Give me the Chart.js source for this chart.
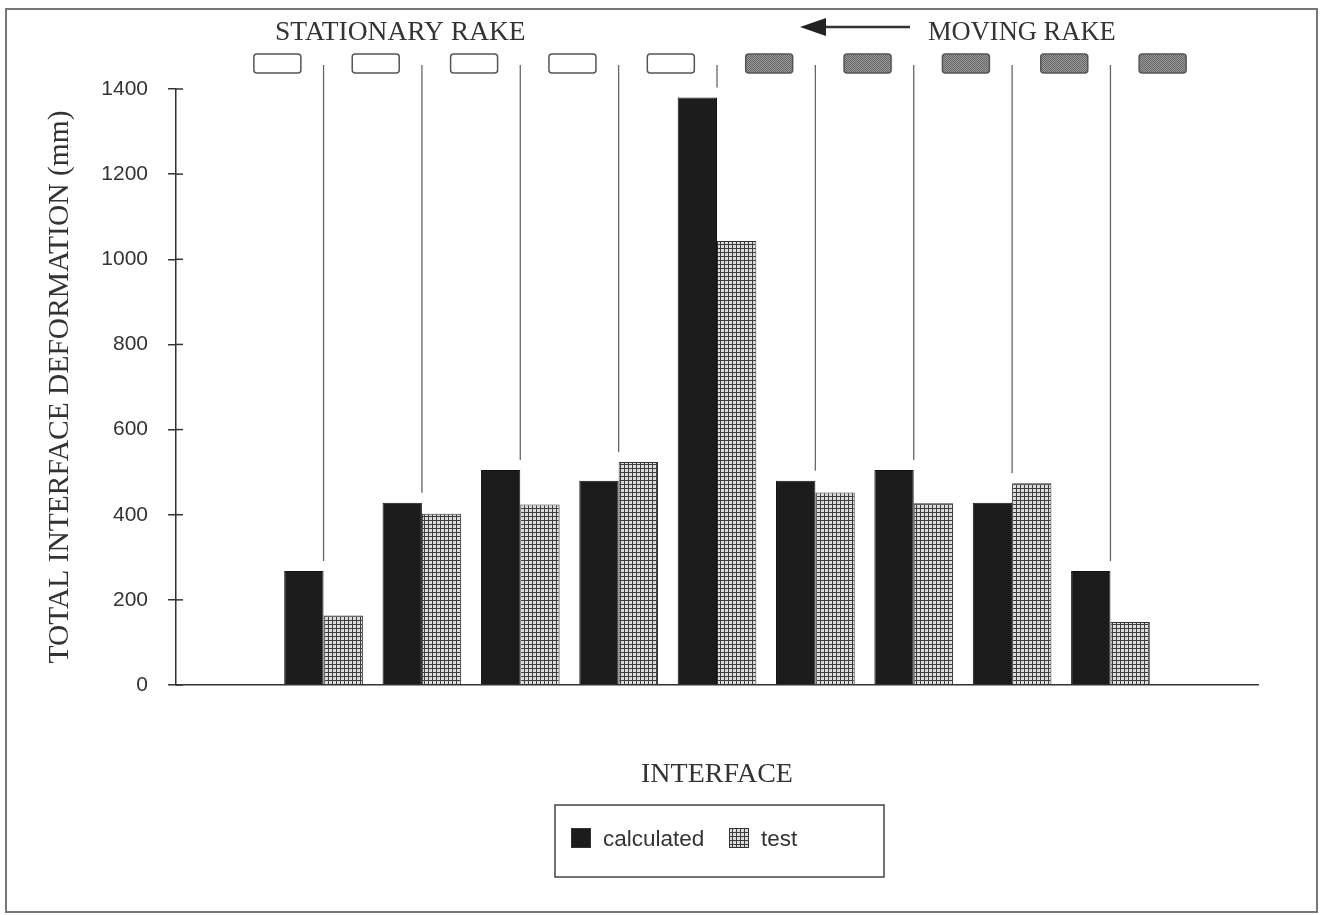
<!DOCTYPE html>
<html>
<head>
<meta charset="utf-8">
<script src="https://cdn.jsdelivr.net/npm/chart.js@4.4.0/dist/chart.umd.min.js"></script>
<style>
  html, body { margin: 0; padding: 0; background: #fff; }
  canvas { display: block; }
</style>
</head>
<body>
<canvas id="deformChart" width="1320" height="915"></canvas>
<script>
// interface slots (empty first / last slot = rake ends)
const interfaces = ["", "1", "2", "3", "4", "5", "6", "7", "8", "9", ""];
const calculated = [null, 268, 428, 505, 480, 1380, 480, 505, 428, 268, null];
const test = [null, 163, 402, 424, 524, 1043, 452, 427, 474, 148, null];
const yMin = 0;
const yMax = 1400;
const yStep = 200;
const rakes = ["stationary", "stationary", "stationary", "stationary", "stationary",
               "moving", "moving", "moving", "moving", "moving"];

const canvas = document.getElementById("deformChart");
const ctx = canvas.getContext("2d");

// fine grid hatch used for the "test" bars
function gridPattern() {
  const c = document.createElement("canvas");
  c.width = 4; c.height = 4;
  const g = c.getContext("2d");
  g.fillStyle = "#dcdcdc";
  g.fillRect(0, 0, 4, 4);
  g.fillStyle = "#3c3c3c";
  g.fillRect(0, 0, 4, 1);
  g.fillRect(0, 0, 1, 4);
  return ctx.createPattern(c, "repeat");
}

// stipple for moving rake elements
function stipplePattern() {
  const c = document.createElement("canvas");
  c.width = 2; c.height = 2;
  const g = c.getContext("2d");
  g.fillStyle = "#9a9a9a";
  g.fillRect(0, 0, 2, 2);
  g.fillStyle = "#666";
  g.fillRect(0, 0, 1, 1);
  g.fillRect(1, 1, 1, 1);
  return ctx.createPattern(c, "repeat");
}

const testFill = gridPattern();
const movingFill = stipplePattern();
const SERIF = "'Liberation Serif', 'DejaVu Serif', serif";
const SANS = "'Liberation Sans', Arial, sans-serif";

function roundRect(g, x, y, w, h, r) {
  g.beginPath();
  g.moveTo(x + r, y);
  g.lineTo(x + w - r, y);
  g.quadraticCurveTo(x + w, y, x + w, y + r);
  g.lineTo(x + w, y + h - r);
  g.quadraticCurveTo(x + w, y + h, x + w - r, y + h);
  g.lineTo(x + r, y + h);
  g.quadraticCurveTo(x, y + h, x, y + h - r);
  g.lineTo(x, y + r);
  g.quadraticCurveTo(x, y, x + r, y);
  g.closePath();
}

const decor = {
  id: "rakeDecor",
  afterDraw(chart) {
    const g = chart.ctx;
    const xs = chart.scales.x;
    const ys = chart.scales.y;
    g.save();

    // outer frame
    g.strokeStyle = "#777";
    g.lineWidth = 2;
    g.strokeRect(6, 9, 1311, 903);

    // inner half of y ticks
    g.strokeStyle = "#333";
    g.lineWidth = 1.5;
    ys.ticks.forEach(t => {
      const y = ys.getPixelForValue(t.value);
      g.beginPath();
      g.moveTo(xs.left, y);
      g.lineTo(xs.left + 7, y);
      g.stroke();
    });

    // rake elements at slot boundaries
    rakes.forEach((kind, k) => {
      const cx = xs.getPixelForValue(k + 0.5) + 3;
      const w = 47, h = 19, top = 54;
      roundRect(g, cx - w / 2, top, w, h, 3);
      g.fillStyle = kind === "moving" ? movingFill : "#fff";
      g.fill();
      g.strokeStyle = "#555";
      g.lineWidth = 1.5;
      g.stroke();
    });

    // interface lines down to the bars
    g.strokeStyle = "#666";
    g.lineWidth = 1.3;
    interfaces.forEach((lab, i) => {
      if (calculated[i] === null) return;
      const x = xs.getPixelForValue(i);
      const yEnd = ys.getPixelForValue(Math.max(calculated[i], test[i])) - 10;
      g.beginPath();
      g.moveTo(x, 65);
      g.lineTo(x, yEnd);
      g.stroke();
    });

    // header texts and arrow
    g.fillStyle = "#333";
    g.font = "27.5px " + SERIF;
    g.textBaseline = "alphabetic";
    g.textAlign = "left";
    g.fillText("STATIONARY RAKE", 275, 40);
    g.font = "26.5px " + SERIF;
    g.fillText("MOVING RAKE", 928, 40);

    g.strokeStyle = "#333";
    g.lineWidth = 2.5;
    g.beginPath();
    g.moveTo(910, 27);
    g.lineTo(822, 27);
    g.stroke();
    g.beginPath();
    g.moveTo(800, 27);
    g.lineTo(826, 18);
    g.lineTo(826, 36);
    g.closePath();
    g.fillStyle = "#222";
    g.fill();

    // legend box
    g.strokeStyle = "#444";
    g.lineWidth = 1.5;
    g.strokeRect(555, 805, 329, 72);
    const items = [
      { x: 571, text: chart.data.datasets[0].label, fill: chart.data.datasets[0].backgroundColor },
      { x: 729, text: chart.data.datasets[1].label, fill: chart.data.datasets[1].backgroundColor }
    ];
    g.font = "22.5px " + SANS;
    g.textBaseline = "middle";
    items.forEach(it => {
      g.fillStyle = it.fill;
      g.fillRect(it.x, 828, 20, 20);
      g.strokeStyle = "#333";
      g.lineWidth = 1;
      g.strokeRect(it.x + 0.5, 828.5, 19, 19);
      g.fillStyle = "#333";
      g.fillText(it.text, it.x + 32, 840);
    });

    g.restore();
  }
};

new Chart(canvas, {
  type: "bar",
  data: {
    labels: interfaces,
    datasets: [
      {
        label: "calculated",
        data: calculated,
        backgroundColor: "#1c1c1c",
        borderColor: "#111",
        borderWidth: 1,
        barPercentage: 1.0,
        categoryPercentage: 0.8
      },
      {
        label: "test",
        data: test,
        backgroundColor: testFill,
        borderColor: "#333",
        borderWidth: 1,
        barPercentage: 1.0,
        categoryPercentage: 0.8
      }
    ]
  },
  options: {
    responsive: false,
    animation: false,
    devicePixelRatio: 1,
    layout: { padding: { left: 0, right: 62, top: 89, bottom: 0 } },
    plugins: {
      legend: { display: false },
      tooltip: { enabled: false }
    },
    scales: {
      x: {
        grid: { display: false },
        border: { display: true, color: "#333", width: 1.5 },
        ticks: { display: false },
        title: {
          display: true,
          text: "INTERFACE",
          color: "#333",
          font: { family: SERIF, size: 28 },
          padding: { top: 0, bottom: 124 }
        },
        afterFit(s) { s.height = 230; }
      },
      y: {
        min: yMin,
        max: yMax,
        ticks: {
          stepSize: yStep,
          color: "#333",
          padding: 20,
          font: { family: SANS, size: 21 },
          callback: v => String(v)
        },
        grid: {
          drawOnChartArea: false,
          drawTicks: true,
          tickLength: 8,
          color: "#333",
          lineWidth: 1.5
        },
        border: { display: true, color: "#333", width: 1.5 },
        title: {
          display: true,
          text: "TOTAL INTERFACE DEFORMATION (mm)",
          color: "#333",
          font: { family: SERIF, size: 29.5 },
          padding: { top: 43, bottom: 0 }
        },
        afterFit(s) { s.width = 176; }
      }
    }
  },
  plugins: [decor]
});
</script>
</body>
</html>
